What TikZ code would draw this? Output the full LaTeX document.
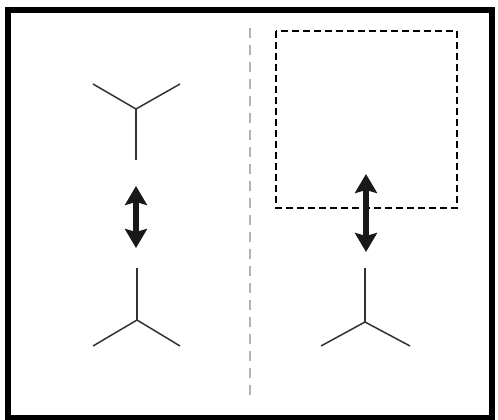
\documentclass[tikz,border=0pt]{standalone}
\usetikzlibrary{arrows.meta}

\begin{document}
\begin{tikzpicture}[x=1pt,y=-1pt]

\tikzset{bond/.style = {line width=1.5pt, draw=black!80}}
\tikzset{swap/.style = {{Stealth[width=22pt,length=19pt,inset=3pt]}-{Stealth[width=22pt,length=19pt,inset=3pt]}, line width=6pt, draw=black!90}}
\tikzset{box/.style = {line width=1.5pt, dash pattern=on 7pt off 4pt}}
\tikzset{divider/.style = {draw=black!30, line width=1.2pt, dash pattern=on 10pt off 7pt}}

\useasboundingbox (0,0) rectangle (498,420);

% frame
\draw[line width=5.5pt] (8,10) rectangle (492,418);

% vertices
\coordinate (c1) at (136,109);
\coordinate (l1) at (93,84);
\coordinate (r1) at (180,84);
\coordinate (s1) at (136,160);
\coordinate (c2) at (137,320);
\coordinate (l2) at (93,346);
\coordinate (r2) at (180,346);
\coordinate (s2) at (137,268);
\coordinate (c3) at (365,322);
\coordinate (l3) at (321,346);
\coordinate (r3) at (410,346);
\coordinate (s3) at (365,268);
\coordinate (a1) at (136,186);
\coordinate (b1) at (136,248);
\coordinate (a2) at (366,174);
\coordinate (b2) at (366,252);
\coordinate (top) at (250,28);
\coordinate (bot) at (250,400);

%edges
\draw[bond] (l1) -- (c1) -- (r1);
\draw[bond] (c1) -- (s1);
\draw[bond] (l2) -- (c2) -- (r2);
\draw[bond] (c2) -- (s2);
\draw[bond] (l3) -- (c3) -- (r3);
\draw[bond] (c3) -- (s3);
\draw[divider] (top) -- (bot);
\draw[box] (276,31) rectangle (457,208);
\draw[swap] (a1) -- (b1);
\draw[swap] (a2) -- (b2);

\end{tikzpicture}
\end{document}
